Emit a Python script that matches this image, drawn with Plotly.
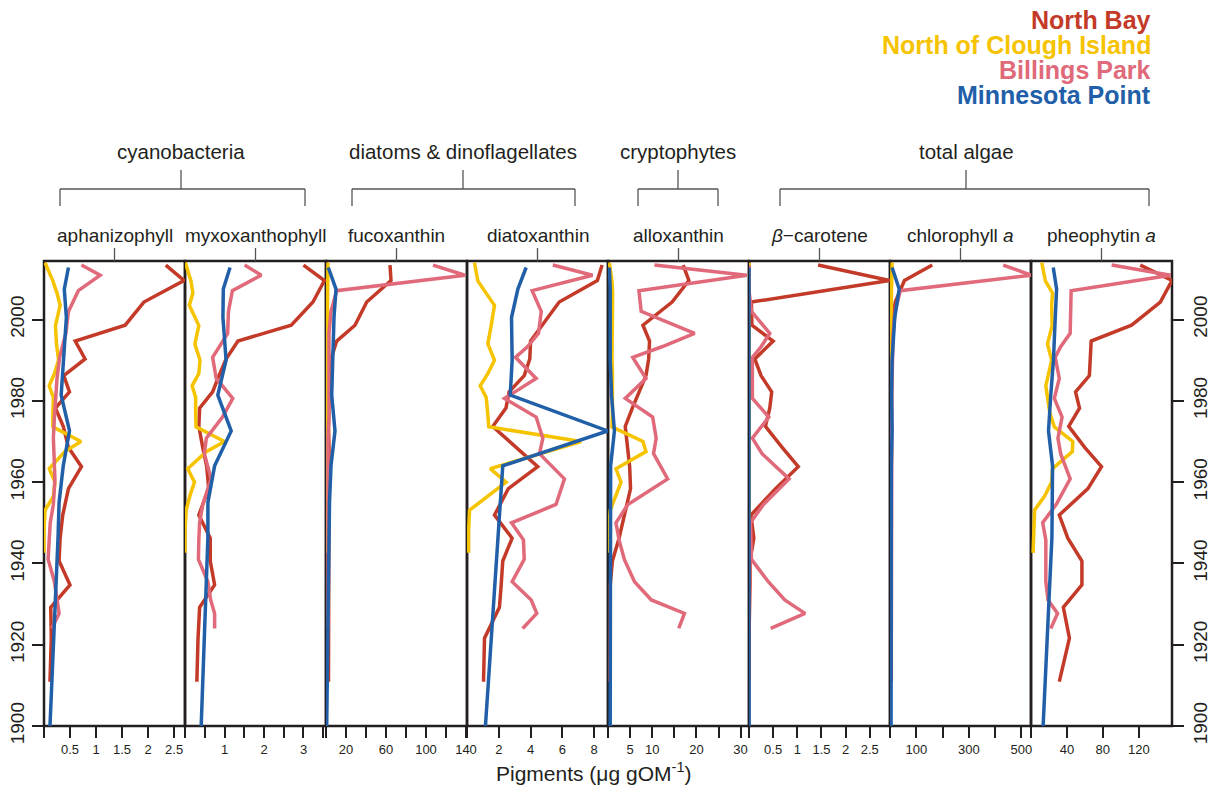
import plotly.graph_objects as go

# ---------------- data ----------------
PANELS = ["aphanizophyll", "myxoxanthophyll", "fucoxanthin", "diatoxanthin",
          "alloxanthin", "<i>β</i>−carotene", "chlorophyll <i>a</i>", "pheophytin <i>a</i>"]

X_RANGES = [[0, 2.71], [0, 3.57], [0, 141], [0, 8.87], [0, 31.9], [0, 2.92], [0, 537], [0, 157]]
X_TICKVALS = [[0, 0.5, 1, 1.5, 2, 2.5],
              [0, 0.5, 1, 1.5, 2, 2.5, 3, 3.5],
              [0, 20, 40, 60, 80, 100, 120, 140],
              [0, 2, 4, 6, 8],
              [0, 5, 10, 15, 20, 25, 30],
              [0, 0.5, 1, 1.5, 2, 2.5],
              [0, 100, 200, 300, 400, 500],
              [0, 40, 80, 120]]
X_TICKTEXT = [[" ", "0.5", "1", "1.5", "2", "2.5"],
              [" ", " ", "1", " ", "2", " ", "3", " "],
              [" ", "20", " ", "60", " ", "100", " ", "140"],
              [" ", "2", "4", "6", "8"],
              [" ", "5", "10", " ", "20", " ", "30"],
              [" ", "0.5", "1", "1.5", "2", "2.5"],
              [" ", "100", " ", "300", " ", "500"],
              [" ", "40", "80", "120"]]
Y_TICKS = [1900, 1920, 1940, 1960, 1980, 2000]

SITES = ["North Bay", "North of Clough Island", "Billings Park", "Minnesota Point"]
COLORS = ["#C43A28", "#F6C300", "#E0697A", "#2160A8"]

# North Bay
NB_YEARS = [2013.4, 2009.6, 2004.3, 1998.6, 1994.7, 1990.3, 1986.2, 1982.2, 1978.2, 1973.7,
            1968.5, 1963.8, 1958.4, 1951.9, 1946.2, 1940.6, 1934.7, 1929.2, 1921.6, 1910.9]
NB_APHAN = [2.34, 2.69, 1.92, 1.56, 0.60, 0.79, 0.38, 0.49, 0.22, 0.37,
            0.47, 0.72, 0.47, 0.36, 0.31, 0.29, 0.50, 0.13, 0.14, 0.115]
NB_MYXO = [3.0, 3.53, 3.24, 2.69, 1.34, 1.04, 0.86, 0.70, 0.37, 0.35,
           0.45, 0.55, 0.60, 0.35, 0.64, 0.64, 0.75, 0.37, 0.33, 0.30]
NB_FUCO = [64, 65, 40.7, 29, 10.7, 5, 3.5, 3, 3, 2.5,
           3, 3, 3, 2.5, 2.5, 2.5, 3, 2.5, 2.5, 2.5]
NB_DIATOX = [8.5, 8.2, 5.8, 4.7, 4.0, 3.95, 3.6, 2.65, 2.45, 1.62,
             3.1, 4.45, 2.6, 1.73, 2.84, 2.25, 2.15, 2.04, 1.10, 1.04]
NB_ALLOX = [17, 18.3, 14.5, 7.9, 9.4, 9.2, 8.6, 7.0, 5.5, 3.9,
            4.4, 4.9, 5.1, 3.8, 2.5, 1.0, 0.5, 0.5, 0.4, 0.4]
NB_BCAR = [1.43, 2.91, 0.05, 0.06, 0.50, 0.12, 0.25, 0.47, 0.43, 0.34,
           0.69, 1.02, 0.55, 0.04, 0.10, 0.02, 0.02, 0.01, 0.0, 0.0]
NB_CHLA = [161, 55, 20, 8, 6, 5, 5, 5, 5, 5, 5, 5, 5, 5, 5, 5, 5, 5, 5, 5]
NB_PHEO = [121.7, 157, 144, 112, 67, 66, 65, 49.6, 54, 42,
           60, 78.5, 63.4, 31.5, 41, 56.7, 56.7, 36, 42.8, 31.5]

# North of Clough Island
NC_YEARS = [2014.0, 2009.5, 2006.5, 2003.5, 1998.5, 1994.0, 1990.0, 1986.7, 1983.7, 1980.8,
            1977.0, 1973.6, 1970.0, 1967.5, 1963.3, 1960.0, 1956.5, 1953.1, 1948.0, 1942.6]
NC_APHAN = [0.02, 0.17, 0.25, 0.31, 0.22, 0.24, 0.28, 0.20, 0.10, 0.18,
            0.17, 0.17, 0.71, 0.40, 0.10, 0.21, 0.18, 0.02, 0.0, 0.0]
NC_MYXO = [0.01, 0.15, 0.20, 0.11, 0.35, 0.25, 0.38, 0.35, 0.18, 0.27,
           0.27, 0.28, 1.0, 0.54, 0.07, 0.24, 0.12, 0.03, 0.0, 0.0]
NC_FUCO = [2, 2, 1.5, 1.5, 1.2, 1, 1, 1, 1, 1, 1, 1, 1.5, 1, 0.5, 0.5, 0.5, 0.3, 0, 0]
NC_DIATOX = [0.47, 0.68, 1.2, 1.73, 1.52, 1.31, 1.73, 1.31, 0.83, 1.21,
             1.3, 1.37, 7.18, 5.05, 1.46, 2.46, 1.3, 0.16, 0.1, 0.1]
NC_ALLOX = [0.3, 0.9, 1.05, 1.0, 0.9, 0.9, 0.9, 1.0, 1.05, 1.05,
            1.0, 0.9, 7.9, 8.6, 1.8, 2.95, 1.8, 0.5, 0.1, 0.1]
NC_BCAR = [0.0] * 20
NC_CHLA = [8, 6, 4, 3, 3, 2, 2, 2, 2, 2, 2, 2, 3, 3, 2, 2, 2, 1, 1, 1]
NC_PHEO = [12, 16, 24, 23, 23.5, 18.4, 23, 20, 16.5, 18.4,
           21, 26, 46.5, 46, 24, 23, 15, 4, 3, 2.3]

# Billings Park
BP_YEARS = [2013.4, 2010.9, 2007.1, 2002.0, 1996.6, 1993.3, 1990.7, 1985.5, 1980.6, 1976.0,
            1970.8, 1967.0, 1960.8, 1954.5, 1950.0, 1945.8, 1941.0, 1935.5, 1931.0, 1927.7, 1924.0]
BP_APHAN = [0.72, 1.08, 0.66, 0.47, 0.42, 0.35, 0.30, 0.25, 0.22, 0.20,
            0.18, 0.19, 0.21, 0.18, 0.12, 0.10, 0.08, 0.20, 0.25, 0.29, 0.15]
BP_MYXO = [1.51, 1.93, 1.2, 1.1, 1.08, 0.87, 0.70, 0.79, 1.21, 0.95,
           0.54, 0.49, 0.66, 0.45, 0.37, 0.35, 0.34, 0.58, 0.65, 0.75, 0.75]
BP_FUCO = [107, 139, 10.7, 5, 3, 3, 3, 3, 3, 3, 2, 2, 2, 2, 2, 2, 2, 2, 2, 2, 2]
BP_DIATOX = [5.4, 7.9, 4.1, 4.67, 4.5, 3.8, 3.05, 4.35, 2.36, 4.35,
             4.77, 4.56, 6.13, 5.6, 2.8, 3.55, 3.6, 2.84, 4.04, 4.39, 3.5]
BP_ALLOX = [10.5, 31.4, 7.0, 7.5, 19.6, 12.2, 5.6, 8.6, 3.9, 10.1,
            10.9, 10.3, 13.5, 4.5, 1.8, 2.5, 3.7, 6.0, 9.8, 17.3, 16]
BP_BCAR = [0, 0, 0, 0.05, 0.43, 0.25, 0.07, 0.07, 0.07, 0.41,
           0.07, 0.27, 0.83, 0.3, 0.03, 0.04, 0.05, 0.40, 0.74, 1.16, 0.45]
BP_CHLA = [431, 539, 39, 20, 12, 10, 8, 8, 7, 7, 6, 6, 6, 5, 5, 5, 5, 5, 5, 5, 5]
BP_PHEO = [89.8, 155.5, 44.7, 44, 43.6, 33, 27, 31.5, 26, 34.6,
           30, 33, 43.6, 28, 13, 16.5, 16.5, 16.5, 19, 29.6, 22]

# Minnesota Point
MP_YEARS = [2012.8, 2007.5, 2000.5, 1990.0, 1981.4, 1972.6, 1964.0, 1955.0, 1946.5, 1900.0]
MP_APHAN = [0.47, 0.39, 0.43, 0.37, 0.33, 0.49, 0.37, 0.29, 0.27, 0.115]
MP_MYXO = [1.14, 0.97, 0.96, 1.04, 0.83, 1.17, 0.75, 0.58, 0.58, 0.41]
MP_FUCO = [2.3, 10, 8, 6.5, 5.7, 9, 5, 3.5, 3, 0.7]
MP_DIATOX = [3.72, 3.2, 2.8, 2.84, 2.72, 8.85, 2.25, 2.1, 1.95, 1.16]
MP_ALLOX = [0.3, 0.5, 0.5, 0.5, 0.8, 1.45, 0.6, 0.6, 0.6, 0.5]
MP_BCAR = [0.0] * 10
MP_CHLA = [8, 35, 18, 8, 6, 8, 5, 5, 5, 4]
MP_PHEO = [24.8, 28.5, 27, 25, 22, 19.5, 24, 23.5, 23.3, 13.5]

SITE_YEARS = [NB_YEARS, NC_YEARS, BP_YEARS, MP_YEARS]
SITE_VALUES = [
    [NB_APHAN, NB_MYXO, NB_FUCO, NB_DIATOX, NB_ALLOX, NB_BCAR, NB_CHLA, NB_PHEO],
    [NC_APHAN, NC_MYXO, NC_FUCO, NC_DIATOX, NC_ALLOX, NC_BCAR, NC_CHLA, NC_PHEO],
    [BP_APHAN, BP_MYXO, BP_FUCO, BP_DIATOX, BP_ALLOX, BP_BCAR, BP_CHLA, BP_PHEO],
    [MP_APHAN, MP_MYXO, MP_FUCO, MP_DIATOX, MP_ALLOX, MP_BCAR, MP_CHLA, MP_PHEO],
]

GROUPS = ["cyanobacteria", "diatoms & dinoflagellates", "cryptophytes", "total algae"]
# bracket extents in pixels (left, right, stem)
GROUP_BRACKETS = [(60, 305, 181), (352, 575, 463), (638, 718, 678), (780, 1149, 966)]

# ---------------- layout geometry ----------------
W, H = 1214, 792
ML, MR, MT, MB = 44, 42, 261, 66
PW = W - ML - MR
PH = H - MT - MB
INK = "#231f20"
FONT = "Liberation Sans, Arial, Helvetica, sans-serif"


def px_x(px):
    return (px - ML) / PW


def px_y(py):
    return (H - MB - py) / PH


fig = go.Figure()
n = len(PANELS)

# draw order: red, yellow, pink, blue
for s in range(4):
    for p in range(n):
        fig.add_trace(go.Scatter(
            x=SITE_VALUES[s][p], y=SITE_YEARS[s], mode="lines",
            line=dict(color=COLORS[s], width=3.5),
            xaxis="x" if p == 0 else f"x{p+1}", yaxis="y",
            showlegend=False, hoverinfo="skip"))

# dummy trace for right-hand y axis
fig.add_trace(go.Scatter(x=[None], y=[None], xaxis=f"x{n}", yaxis="y2",
                         showlegend=False, hoverinfo="skip"))

layout = dict(
    width=W, height=H,
    margin=dict(l=ML, r=MR, t=MT, b=MB, pad=0, autoexpand=False),
    paper_bgcolor="white", plot_bgcolor="white",
    font=dict(family=FONT, color=INK),
    showlegend=False,
)

for p in range(n):
    key = "xaxis" if p == 0 else f"xaxis{p+1}"
    layout[key] = dict(
        domain=[p / n, (p + 1) / n], range=X_RANGES[p], anchor="y",
        tickmode="array", tickvals=X_TICKVALS[p], ticktext=X_TICKTEXT[p],
        ticks="outside", ticklen=11, tickwidth=1.6, tickcolor=INK,
        tickfont=dict(size=13, color=INK, family=FONT),
        showgrid=False, zeroline=False, showline=False, fixedrange=True,
        automargin=False)

yax = dict(range=[1900, 2014.4], tickmode="array", tickvals=Y_TICKS,
           ticks="outside", ticklen=11, tickwidth=1.6, tickcolor=INK,
           tickangle=-90, tickfont=dict(size=19, color=INK, family=FONT),
           showgrid=False, zeroline=False, showline=False, fixedrange=True,
           automargin=False)
layout["yaxis"] = dict(yax, anchor="x", side="left")
layout["yaxis2"] = dict(yax, anchor=f"x{n}", side="right", overlaying="y")

shapes = []
for p in range(n):
    shapes.append(dict(type="rect", xref="paper", yref="paper",
                       x0=p / n, x1=(p + 1) / n, y0=0, y1=1,
                       line=dict(color=INK, width=2.5), layer="below"))
    # panel label tick
    cx = (p + 0.5) / n
    shapes.append(dict(type="line", xref="paper", yref="paper",
                       x0=cx, x1=cx, y0=px_y(248), y1=1,
                       line=dict(color="#555555", width=1.3)))

for (xl, xr, xs) in GROUP_BRACKETS:
    for (x0, y0, x1, y1) in [(xl, 189, xr, 189), (xl, 189, xl, 206),
                             (xr, 189, xr, 206), (xs, 170, xs, 189)]:
        shapes.append(dict(type="line", xref="paper", yref="paper",
                           x0=px_x(x0), x1=px_x(x1), y0=px_y(y0), y1=px_y(y1),
                           line=dict(color="#555555", width=1.3)))
layout["shapes"] = shapes

ann = []
for p in range(n):
    ann.append(dict(text=PANELS[p], xref="paper", yref="paper",
                    x=(p + 0.5) / n, y=px_y(235), xanchor="center", yanchor="middle",
                    showarrow=False, font=dict(size=19, color=INK, family=FONT)))
for g, (xl, xr, xs) in zip(GROUPS, GROUP_BRACKETS):
    ann.append(dict(text=g, xref="paper", yref="paper",
                    x=px_x(xs), y=px_y(151), xanchor="center", yanchor="middle",
                    showarrow=False, font=dict(size=20.5, color=INK, family=FONT)))

LEGEND_Y = [20, 45, 70, 95]
for s in range(4):
    ann.append(dict(text=f"<b>{SITES[s]}</b>", xref="paper", yref="paper",
                    x=px_x(1153), y=px_y(LEGEND_Y[s]), xanchor="right", yanchor="middle",
                    showarrow=False, font=dict(size=25, color=COLORS[s], family=FONT)))

ann.append(dict(text="Pigments (μg gOM<sup>-1</sup>)", xref="paper", yref="paper",
                x=px_x(594), y=px_y(772), xanchor="center", yanchor="middle",
                showarrow=False, font=dict(size=21, color=INK, family=FONT)))
layout["annotations"] = ann

fig.update_layout(**layout)
fig.write_html("out.html")
